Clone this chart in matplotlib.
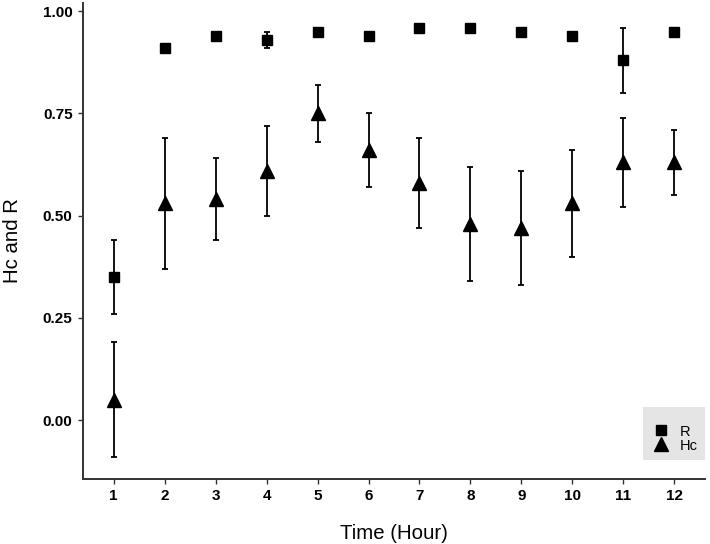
import matplotlib
matplotlib.use("Agg")
import matplotlib.pyplot as plt
import numpy as np

hours = [1, 2, 3, 4, 5, 6, 7, 8, 9, 10, 11, 12]
r_vals = [0.35, 0.91, 0.94, 0.93, 0.95, 0.94, 0.96, 0.96, 0.95, 0.94, 0.88, 0.95]
r_err = [0.09, 0.005, 0.005, 0.02, 0.005, 0.005, 0.005, 0.005, 0.005, 0.005, 0.08, 0.005]
hc_vals = [0.05, 0.53, 0.54, 0.61, 0.75, 0.66, 0.58, 0.48, 0.47, 0.53, 0.63, 0.63]
hc_err = [0.14, 0.16, 0.10, 0.11, 0.07, 0.09, 0.11, 0.14, 0.14, 0.13, 0.11, 0.08]
yticks = [0.00, 0.25, 0.50, 0.75, 1.00]
ytick_labels = ["0.00", "0.25", "0.50", "0.75", "1.00"]

plt.rcParams['font.family'] = ['Liberation Sans', 'DejaVu Sans']

fig = plt.figure(figsize=(7.10, 5.44), dpi=100)
ax = fig.add_axes([83/710, 1 - 479/544, (705-83)/710, (479-3)/544])

ax.errorbar(hours, r_vals, yerr=r_err, fmt='none', ecolor='black', elinewidth=1.3, capsize=2, capthick=1.3, zorder=2)
ax.errorbar(hours, hc_vals, yerr=hc_err, fmt='none', ecolor='black', elinewidth=1.3, capsize=2, capthick=1.3, zorder=2)
ax.plot(hours, r_vals, linestyle='none', marker='s', markersize=7.5, color='black', label='R', zorder=3)
ax.plot(hours, hc_vals, linestyle='none', marker='^', markersize=10, color='black', label='Hc', zorder=3)

ax.set_xlim(0.4, 12.6)
ax.set_ylim(-0.144, 1.02)
ax.set_xticks(hours)
ax.set_xticklabels([str(h) for h in hours], fontweight='bold', fontsize=11)
ax.set_yticks(yticks)
ax.set_yticklabels(ytick_labels, fontweight='bold', fontsize=11)

for s in ['top', 'right']:
    ax.spines[s].set_visible(False)
for s in ['left', 'bottom']:
    ax.spines[s].set_linewidth(1.4)
    ax.spines[s].set_color('#333333')
ax.tick_params(axis='both', length=3.5, width=1, color='#333333', pad=4)

ax.set_xlabel('Time (Hour)', fontsize=14.7)
ax.xaxis.set_label_coords(0.5, -(539 - 479) / 476, transform=ax.transAxes)
ax.xaxis.label.set_va('baseline')
ax.set_ylabel('Hc and R', fontsize=14.7)
ax.yaxis.set_label_coords((13 - 83) / 622, 0.5, transform=ax.transAxes)
ax.yaxis.label.set_va('center')

leg = ax.legend(loc='lower right', bbox_to_anchor=(1.0, (479 - 460) / 476), frameon=True, fontsize=10.5,
                handletextpad=0.58, borderpad=0.5, handlelength=1.46, handleheight=0.9,
                labelspacing=0.0, fancybox=False, borderaxespad=0,
                title=' ', title_fontsize=8)
leg.get_frame().set_facecolor('#e5e5e5')
leg.get_frame().set_edgecolor('none')
leg.get_frame().set_alpha(1)

fig.savefig('out.png', dpi=100)
